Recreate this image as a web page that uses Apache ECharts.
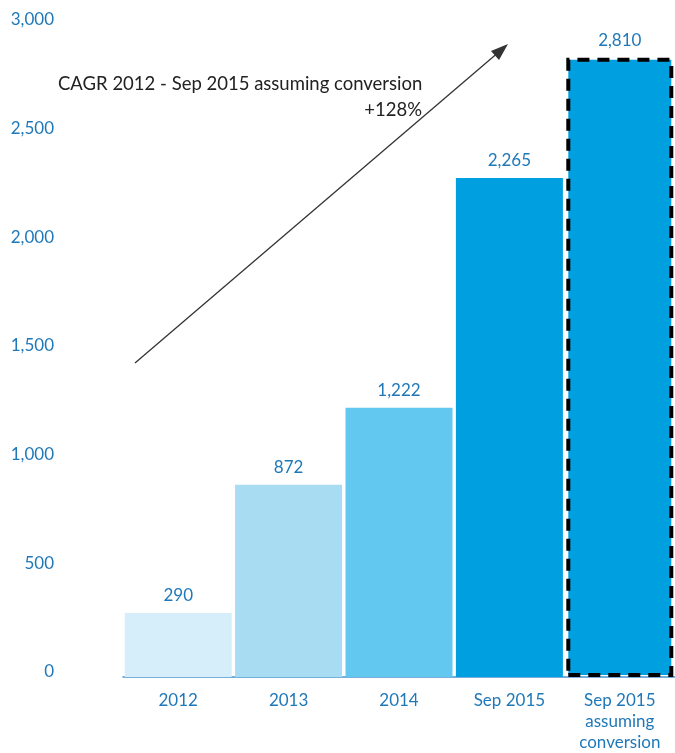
<!DOCTYPE html>
<html><head><meta charset="utf-8">
<script src="https://cdn.jsdelivr.net/npm/echarts@6/dist/echarts.min.js"></script>
<style>html,body{margin:0;padding:0;background:#fff}#c{width:675px;height:753px}</style>
</head><body><div id="c"></div>
<script>
const categories = ['2012', '2013', '2014', 'Sep 2015', 'Sep 2015\nassuming\nconversion'];
const values = [290, 872, 1222, 2265, 2810];
const barColors = ['#d6eef9', '#a8dcf3', '#62c8ef', '#009fe0', '#009fe0'];
const yTicks = [0, 500, 1000, 1500, 2000, 2500, 3000];
const annotationTitle = 'CAGR 2012 - Sep 2015 assuming conversion';
const annotationValue = '+128%';

const FONT = 'Lato';
const BLUE_TEXT = '#1f78b8';

const chart = echarts.init(document.getElementById('c'), null, {renderer: 'canvas'});
chart.setOption({
  animation: false,
  grid: [
    {left: 123, right: -2, top: 16, bottom: 74},
    {left: 123, right: -2, top: 20, bottom: 81}
  ],
  xAxis: [
    {
      type: 'category', gridIndex: 0, data: categories,
      axisLine: {show: true, lineStyle: {color: '#4a95cf', width: 1.5}},
      axisTick: {show: false},
      axisLabel: {color: BLUE_TEXT, fontFamily: FONT, fontSize: 17, margin: 13, lineHeight: 21, interval: 0}
    },
    {type: 'category', gridIndex: 1, data: categories, show: false}
  ],
  yAxis: [
    {type: 'value', gridIndex: 0, min: 0, max: 3000, interval: 500, show: false},
    {
      type: 'value', gridIndex: 1, min: yTicks[0], max: yTicks[yTicks.length - 1], interval: 500,
      axisLine: {show: false}, axisTick: {show: false}, splitLine: {show: false},
      axisLabel: {color: BLUE_TEXT, fontFamily: FONT, fontSize: 17, margin: 69,
        formatter: v => v.toLocaleString('en-US')}
    }
  ],
  series: [{
    type: 'bar', xAxisIndex: 0, yAxisIndex: 0,
    barWidth: 107,
    data: values.map((v, i) => ({
      value: v,
      itemStyle: i === values.length - 1
        ? {color: barColors[i], borderColor: '#000', borderWidth: 4, borderType: [12, 8]}
        : {color: barColors[i]}
    })),
    label: {show: true, position: 'top', distance: 9, color: BLUE_TEXT, fontFamily: FONT, fontSize: 17,
      formatter: p => p.value.toLocaleString('en-US')}
  }],
  graphic: [
    {type: 'line', shape: {x1: 135, y1: 363, x2: 500, y2: 51}, style: {stroke: '#333', lineWidth: 1.3}},
    {type: 'polygon', shape: {points: [[508, 44], [491, 51], [499, 60]]}, style: {fill: '#333'}},
    {type: 'text', left: 58, top: 75, style: {text: annotationTitle, fill: '#222', font: '18.5px ' + FONT}},
    {type: 'text', right: 253, top: 101, style: {text: annotationValue, fill: '#222', font: '18.5px ' + FONT, textAlign: 'right'}}
  ]
});
</script></body></html>
